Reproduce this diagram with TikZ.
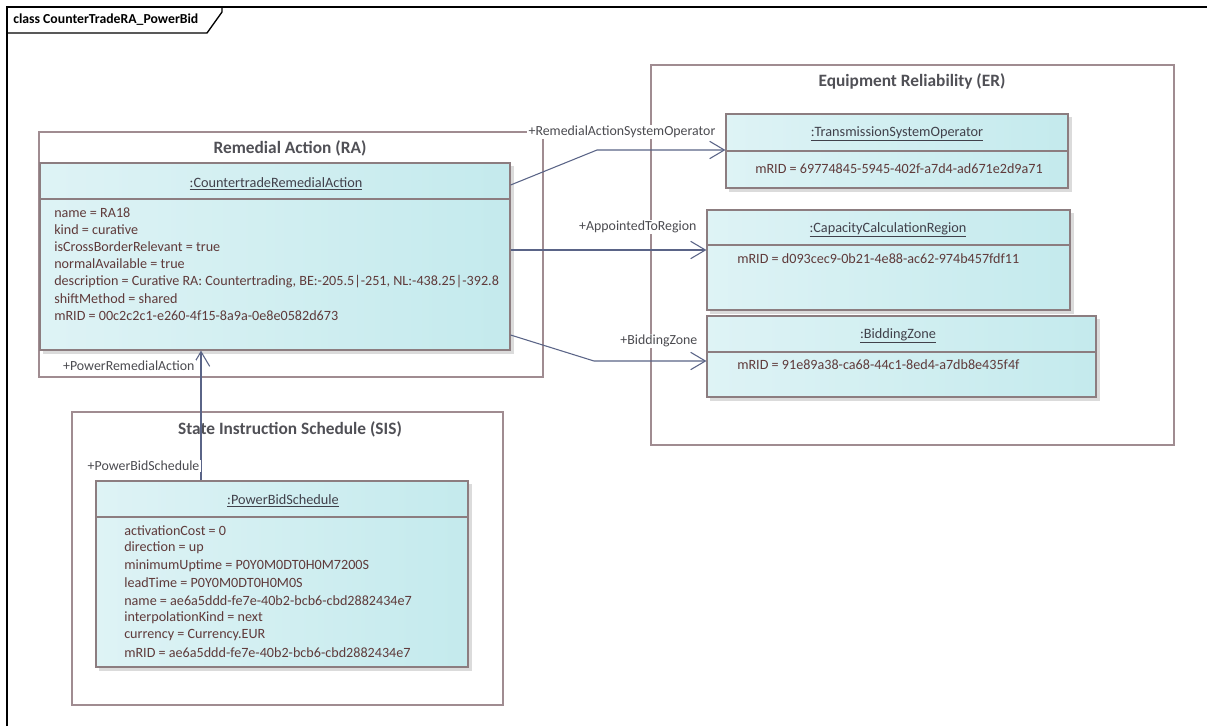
\documentclass[tikz,border=0pt]{standalone}
\usepackage{fontspec}
\setmainfont{Carlito}
\usetikzlibrary{arrows.meta,fit}
\definecolor{pkgline}{RGB}{160,140,145}
\definecolor{clsline}{RGB}{140,125,128}
\definecolor{clsleft}{RGB}{222,243,245}
\definecolor{clsright}{RGB}{196,234,237}
\definecolor{attrtext}{RGB}{95,58,58}
\definecolor{titletext}{RGB}{65,65,75}
\definecolor{pkgtext}{RGB}{80,80,86}
\definecolor{assocline}{RGB}{90,100,135}
\definecolor{roletext}{RGB}{75,75,80}
\tikzset{
  frameline/.style={draw=black, line width=1pt},
  pkg/.style={draw=pkgline, line width=0.9pt},
  pkgtitle/.style={font=\fontsize{13}{15}\selectfont\bfseries, text=pkgtext, inner sep=0pt},
  clsshadow/.style={fill=black!14, draw=none},
  cls/.style={draw=clsline, line width=0.9pt, left color=clsleft, right color=clsright, inner sep=0pt},
  divider/.style={draw=clsline, line width=0.9pt},
  clstitle/.style={font=\fontsize{10.7}{12}\selectfont, text=titletext, inner sep=0pt},
  attr/.style={font=\fontsize{10.6}{12}\selectfont, text=attrtext, anchor=west, inner sep=0pt},
  role/.style={font=\fontsize{10.4}{12}\selectfont, text=roletext, fill=white, inner sep=1pt},
  assoc/.style={draw=assocline, line width=0.8pt, -{Straight Barb[length=11pt,width=13pt,line width=0.8pt]}},
}
\newcommand{\uline}[1]{\underline{#1}}
\begin{document}
\begin{tikzpicture}[x=0.75pt,y=-0.75pt]
\useasboundingbox (0,0) rectangle (1207,726);
\fill[white] (0,0) rectangle (1207,726);

% diagram frame with its name tab
\draw[frameline] (7,726) -- (7,7) -- (1207,7);
\draw[frameline] (7,33) -- (207,33) -- (222,12) -- (222,7);
\node[anchor=west, inner sep=0pt, font=\fontsize{10.3}{12}\selectfont\bfseries] (frametitle) at (13,20) {class CounterTradeRA\_PowerBid};

% packages
\draw[pkg] (651,65) rectangle (1174,445);
\node[pkgtitle] (ertitle) at (912,81) {Equipment Reliability (ER)};
\draw[pkg] (39,132) rectangle (543,377);
\node[pkgtitle] (ratitle) at (290,148) {Remedial Action (RA)};
\draw[pkg] (72,412) rectangle (503,705);
\node[pkgtitle] (sistitle) at (290,429) {State Instruction Schedule (SIS)};

% class shadows
\fill[clsshadow] (43,166) rectangle (514,354);
\fill[clsshadow] (99,484) rectangle (472,671);
\fill[clsshadow] (729,117) rectangle (1072,192);
\fill[clsshadow] (710,213) rectangle (1074,314);
\fill[clsshadow] (710,319) rectangle (1100,401);

% CountertradeRemedialAction
\node[cls, fit={(40,163) (510,350)}] (cra) {};
\draw[divider] (cra.west |- 0,199) -- (cra.east |- 0,199);
\node[clstitle] (craname) at (276,184) {\uline{:CountertradeRemedialAction}};
\node[attr] (cra1) at (54,213) {name = RA18};
\node[attr] (cra2) at (54,230) {kind = curative};
\node[attr] (cra3) at (54,247) {isCrossBorderRelevant = true};
\node[attr] (cra4) at (54,264) {normalAvailable = true};
\node[attr] (cra5) at (54,282) {description = Curative RA: Countertrading, BE:-205.5|-251, NL:-438.25|-392.8};
\node[attr] (cra6) at (54,299) {shiftMethod = shared};
\node[attr] (cra7) at (54,316) {mRID = 00c2c2c1-e260-4f15-8a9a-0e8e0582d673};

% PowerBidSchedule
\node[cls, fit={(96,481) (468,667)}] (pbs) {};
\draw[divider] (pbs.west |- 0,517) -- (pbs.east |- 0,517);
\node[clstitle] (pbsname) at (283,501) {\uline{:PowerBidSchedule}};
\node[attr] (pbs1) at (124,531) {activationCost = 0};
\node[attr] (pbs2) at (124,548) {direction = up};
\node[attr] (pbs3) at (124,566) {minimumUptime = P0Y0M0DT0H0M7200S};
\node[attr] (pbs4) at (124,583) {leadTime = P0Y0M0DT0H0M0S};
\node[attr] (pbs5) at (124,601) {name = ae6a5ddd-fe7e-40b2-bcb6-cbd2882434e7};
\node[attr] (pbs6) at (124,618) {interpolationKind = next};
\node[attr] (pbs7) at (124,635) {currency = Currency.EUR};
\node[attr] (pbs8) at (124,653) {mRID = ae6a5ddd-fe7e-40b2-bcb6-cbd2882434e7};

% TransmissionSystemOperator
\node[cls, fit={(726,114) (1068,188)}] (tso) {};
\draw[divider] (tso.west |- 0,151) -- (tso.east |- 0,151);
\node[clstitle] (tsoname) at (897,134) {\uline{:TransmissionSystemOperator}};
\node[attr] (tso1) at (755,169) {mRID = 69774845-5945-402f-a7d4-ad671e2d9a71};

% CapacityCalculationRegion
\node[cls, fit={(707,210) (1070,310)}] (ccr) {};
\draw[divider] (ccr.west |- 0,245) -- (ccr.east |- 0,245);
\node[clstitle] (ccrname) at (888,230) {\uline{:CapacityCalculationRegion}};
\node[attr] (ccr1) at (737,259) {mRID = d093cec9-0b21-4e88-ac62-974b457fdf11};

% BiddingZone
\node[cls, fit={(707,316) (1096,397)}] (bz) {};
\draw[divider] (bz.west |- 0,352) -- (bz.east |- 0,352);
\node[clstitle] (bzname) at (898,336) {\uline{:BiddingZone}};
\node[attr] (bz1) at (737,365) {mRID = 91e89a38-ca68-44c1-8ed4-a7db8e435f4f};

% associations
\draw[assoc] (cra.east |- 0,185) -- (597,150) -- (tso.west |- 0,150);
\draw[assoc] (cra.east |- 0,250) -- (ccr.west |- 0,250);
\draw[assoc] (cra.east |- 0,335) -- (594,361) -- (bz.west |- 0,361);
\draw[assoc] (pbs.north -| 201,0) -- (cra.south -| 201,0);

% association role names
\node[role, anchor=west] (r1) at (527,132) {+RemedialActionSystemOperator};
\node[role, anchor=east] (r2) at (698,227) {+AppointedToRegion};
\node[role, anchor=east] (r3) at (699,341) {+BiddingZone};
\node[role, anchor=east] (r4) at (196,366) {+PowerRemedialAction};
\node[role, anchor=east] (r5) at (201,466) {+PowerBidSchedule};
\end{tikzpicture}
\end{document}
